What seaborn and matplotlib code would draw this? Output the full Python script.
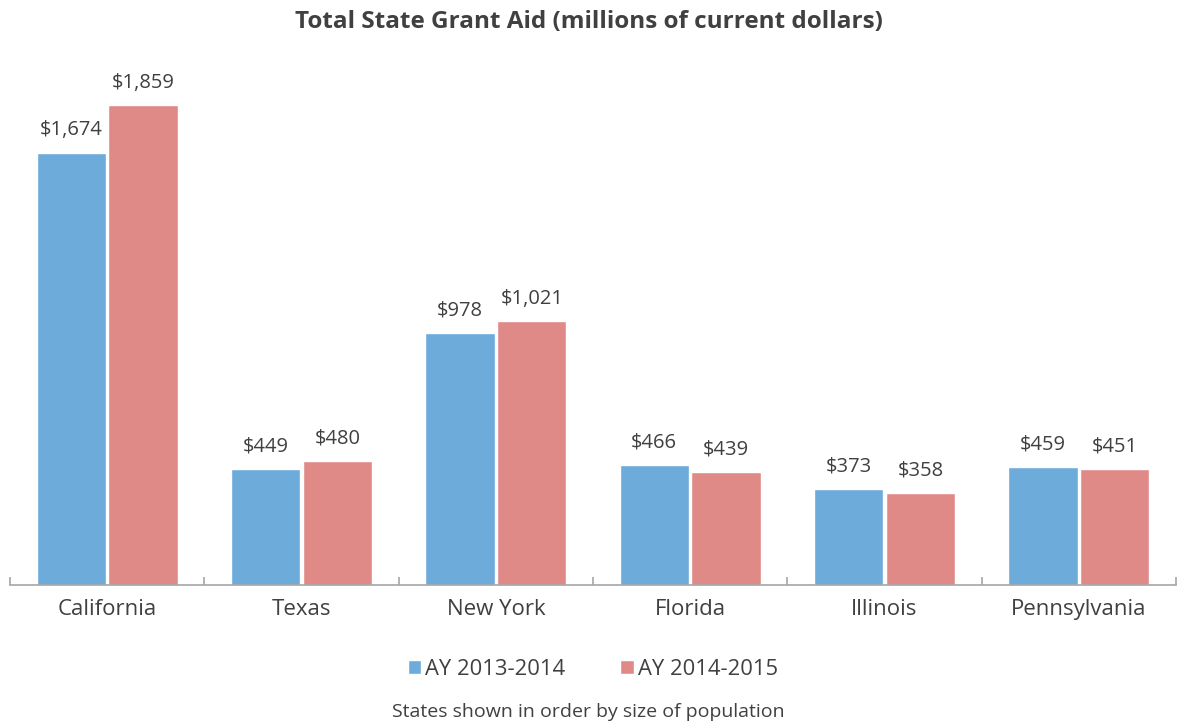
import seaborn as sns
import pandas as pd
import numpy as np
import matplotlib.pyplot as plt

states = ['California', 'Texas', 'New York', 'Florida', 'Illinois', 'Pennsylvania']
ay_2013 = [1674, 449, 978, 466, 373, 459]
ay_2014 = [1859, 480, 1021, 439, 358, 451]
years = ['AY 2013-2014', 'AY 2014-2015']
colors = ['#6DABDB', '#E08A88']

df = pd.DataFrame({
    'state': states * 2,
    'year': [years[0]] * len(states) + [years[1]] * len(states),
    'aid': ay_2013 + ay_2014,
})

sns.set_style('white')
plt.rcParams['font.family'] = ['Open Sans', 'DejaVu Sans']
text_color = '#404040'

fig = plt.figure(figsize=(11.77, 7.24), dpi=100)
ax = fig.add_axes([10 / 1177, 139 / 724, 1166 / 1177, 542 / 724])
sns.barplot(data=df, x='state', y='aid', hue='year', palette=colors,
            width=0.74, gap=0.035, saturation=1, ax=ax, legend=True)

for container in ax.containers:
    ax.bar_label(container, labels=[f'${v:,.0f}' for v in container.datavalues],
                 padding=9, fontsize=14.5, color=text_color)

ax.set_ylim(0, 2100)
ax.set_xlim(-0.5, len(states) - 0.5)
ax.set_yticks([])
ax.set_xlabel('')
ax.set_ylabel('')
for s in ['top', 'right', 'left']:
    ax.spines[s].set_visible(False)
ax.spines['bottom'].set_color('#A6A6A6')
ax.spines['bottom'].set_linewidth(1.2)
ax.tick_params(axis='x', which='major', bottom=False, length=0, pad=10,
               labelsize=16, labelcolor=text_color)
ax.set_xticks(np.arange(-0.5, len(states), 1), minor=True)
ax.tick_params(axis='x', which='minor', bottom=True, direction='in', length=6,
               color='#A6A6A6', width=1.2)

ax.legend(loc='upper center', bbox_to_anchor=(0.5, -0.1), ncol=2, frameon=False,
          fontsize=15.8, handlelength=0.6, handleheight=0.6, handletextpad=0.2,
          columnspacing=2.5, labelcolor=text_color)

fig.text(0.5, 1 - 22 / 724, 'Total State Grant Aid (millions of current dollars)',
         ha='center', va='center', fontsize=17.5, fontweight='bold', color=text_color)
fig.text(0.5, 1 - 712 / 724, 'States shown in order by size of population',
         ha='center', va='center', fontsize=14, color=text_color)

fig.savefig('out.png', dpi=100)
